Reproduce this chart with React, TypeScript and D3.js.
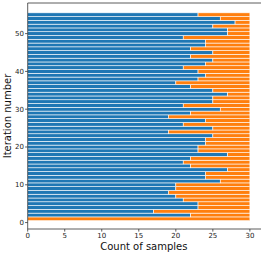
import * as d3 from 'd3';
import React from 'react';

// iterations 1..55, blue = first class count, total samples per iteration
const iterations = d3.range(1, 56);
const blueCounts = [
  0, 22, 17, 23, 23, 21, 20, 19, 20, 20,
  26, 24, 24, 27, 22, 21, 22, 27, 23, 23,
  24, 24, 25, 19, 25, 21, 24, 19, 22, 26,
  21, 25, 25, 27, 25, 22, 20, 23, 24, 23,
  21, 24, 25, 22, 25, 22, 24, 24, 21, 27,
  27, 25, 28, 26, 23,
];
const totalSamples = 30;
const xTicks = [0, 5, 10, 15, 20, 25, 30];
const yTicks = [0, 10, 20, 30, 40, 50];

const W = 264;
const H = 256;
const left = 27.7;
const right = 261;
const top = 3;
const bottom = 229;

const App = () => {
  const x = d3.scaleLinear().domain([0, 31.5]).range([left, right]);
  const y = d3.scaleLinear().domain([-1.7, 58.1]).range([bottom, top]);
  const band = Math.abs(y(1) - y(0));

  const rows = iterations.map((it, i) => ({
    it,
    blue: blueCounts[i],
    orange: totalSamples - blueCounts[i],
  }));

  const font = 'DejaVu Sans, sans-serif';

  return (
    <svg width={W} height={H} style={{ position: 'absolute', left: 0, top: 0 }} fontFamily={font}>
      <rect width={W} height={H} fill="#fff" />
      {rows.map(d => (
        <g key={d.it}>
          <rect
            x={x(0)}
            y={y(d.it + 0.5)}
            width={x(d.blue) - x(0)}
            height={band}
            fill="#1f77b4"
            stroke="#fff"
            strokeWidth={0.6}
          />
          <rect
            x={x(d.blue)}
            y={y(d.it + 0.5)}
            width={x(d.blue + d.orange) - x(d.blue)}
            height={band}
            fill="#ff7f0e"
            stroke="#fff"
            strokeWidth={0.6}
          />
        </g>
      ))}
      {/* spines */}
      <line x1={left} x2={left} y1={top} y2={bottom} stroke="#333" strokeWidth={0.8} />
      <line x1={left} x2={right} y1={bottom} y2={bottom} stroke="#333" strokeWidth={0.8} />
      <line x1={left} x2={right} y1={top} y2={top} stroke="#333" strokeWidth={0.8} />
      {/* x ticks */}
      {xTicks.map(t => (
        <g key={t} transform={`translate(${x(t)},${bottom})`}>
          <line y1={0} y2={2.6} stroke="#333" strokeWidth={0.8} />
          <text y={8.6} textAnchor="middle" fontSize={7} fill="#222">{t}</text>
        </g>
      ))}
      {/* y ticks */}
      {yTicks.map(t => (
        <g key={t} transform={`translate(${left},${y(t)})`}>
          <line x1={0} x2={-2.6} stroke="#333" strokeWidth={0.8} />
          <text x={-3.8} dy="0.35em" textAnchor="end" fontSize={7} fill="#222">{t}</text>
        </g>
      ))}
      <text x={(left + 250) / 2 + 5} y={250} textAnchor="middle" fontSize={10} fill="#111">Count of samples</text>
      <text
        transform={`translate(11,${(top + bottom) / 2}) rotate(-90)`}
        textAnchor="middle"
        fontSize={10}
        fill="#111"
      >
        Iteration number
      </text>
    </svg>
  );
};

export default App;
